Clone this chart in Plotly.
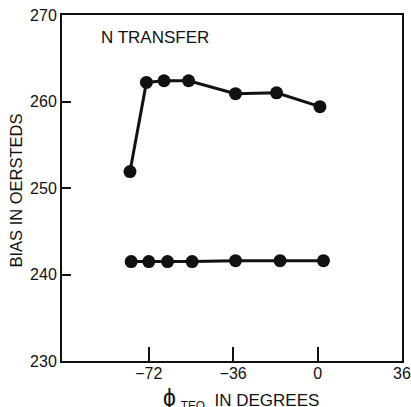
import plotly.graph_objects as go

# Data
phi_upper = [-80, -73, -65.5, -55, -35, -17.5, 1]
bias_upper = [251.9, 262.2, 262.4, 262.4, 260.9, 261.0, 259.4]

phi_lower = [-79.5, -72, -64, -53.5, -35, -16, 2.5]
bias_lower = [241.5, 241.5, 241.5, 241.5, 241.6, 241.6, 241.6]

x_ticks = [-72, -36, 0, 36]
x_ticklabels = ["\u221272", "\u221236", "0", "36"]
y_ticks = [230, 240, 250, 260, 270]

FONT = "Liberation Sans, Arial, Helvetica, sans-serif"
INK = "#111111"

fig = go.Figure()
for xs, ys in [(phi_upper, bias_upper), (phi_lower, bias_lower)]:
    fig.add_trace(go.Scatter(
        x=xs, y=ys, mode="lines+markers",
        line=dict(color=INK, width=3),
        marker=dict(color=INK, size=13),
        showlegend=False, cliponaxis=False, hoverinfo="skip",
    ))

fig.update_layout(
    width=411, height=407,
    margin=dict(l=62, r=9, t=15, b=46, autoexpand=False),
    paper_bgcolor="white", plot_bgcolor="white",
    font=dict(family=FONT, color=INK, size=15),
    xaxis=dict(
        range=[-109, 36], tickvals=x_ticks, ticktext=x_ticklabels,
        ticks="inside", ticklen=14, tickwidth=2, tickcolor=INK,
        showline=True, linewidth=2, linecolor=INK, mirror=True,
        showgrid=False, zeroline=False, automargin=False,
        ticklabeloverflow="allow", ticklabelstandoff=-3,
        tickfont=dict(size=16, family=FONT, color=INK),
    ),
    yaxis=dict(
        range=[230, 270], tickvals=y_ticks,
        ticks="inside", ticklen=9, tickwidth=2, tickcolor=INK,
        showline=True, linewidth=2, linecolor=INK, mirror=True,
        showgrid=False, zeroline=False, automargin=False,
        ticklabeloverflow="allow",
        tickfont=dict(size=16, family=FONT, color=INK),
    ),
    annotations=[
        dict(text="N TRANSFER", x=0.109, y=0.936, xref="paper", yref="paper",
             xanchor="left", yanchor="middle", showarrow=False,
             font=dict(size=17, family=FONT, color=INK)),
        dict(text="BIAS IN OERSTEDS", x=-0.134, y=0.494, xref="paper", yref="paper",
             xanchor="center", yanchor="middle", showarrow=False, textangle=-90,
             font=dict(size=16.5, family=FONT, color=INK)),
        dict(text='<span style="font-size:23px">\u03d5</span> <sub>TEO</sub>  IN DEGREES',
             x=0.291, y=-0.11,
             xref="paper", yref="paper", xanchor="left", yanchor="middle",
             showarrow=False, font=dict(size=17, family=FONT, color=INK)),
    ],
)

# remove the browser's default 8px page margin so the figure fills the window
fig.write_html(
    "out.html",
    config={"displayModeBar": False, "staticPlot": True},
    post_script="document.body.style.margin='0';document.body.style.overflow='hidden';",
)
